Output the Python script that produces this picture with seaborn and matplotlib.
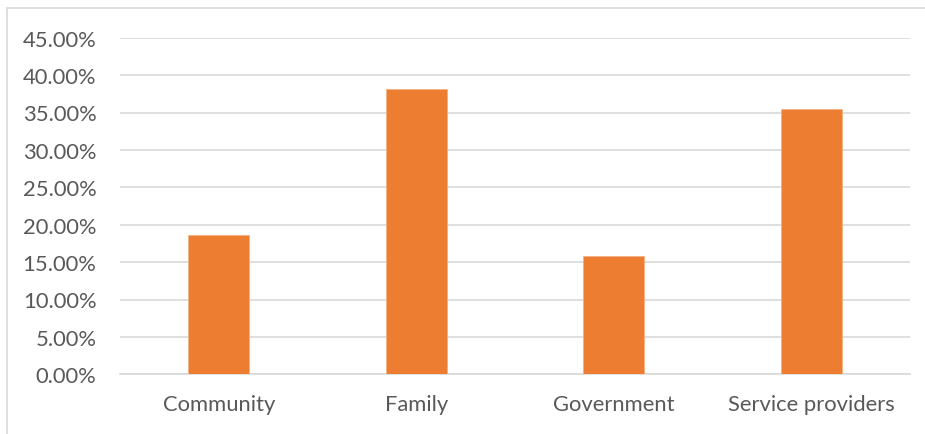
import matplotlib
matplotlib.use("Agg")
import matplotlib.pyplot as plt
import seaborn as sns
import pandas as pd
from matplotlib.lines import Line2D
from matplotlib.ticker import FuncFormatter, MultipleLocator

categories = ["Community", "Family", "Government", "Service providers"]
values = [18.6, 38.2, 15.8, 35.45]

df = pd.DataFrame({"category": categories, "value": values})

sns.set_theme(style="white")
plt.rcParams['font.family'] = ['Lato', 'DejaVu Sans']

fig = plt.figure(figsize=(9.25, 4.35), dpi=100)
ax = fig.add_axes([120/925, (435-375.3)/435, (910-120)/925, (375.3-38.7)/435])

sns.barplot(data=df, x="category", y="value", color="#ED7D31", saturation=1,
            width=0.31, ax=ax, edgecolor="#F4B183", linewidth=0.6, zorder=3)

ax.set_ylim(0, 45)
ax.set_xlim(-0.5, 3.5)
ax.yaxis.set_major_locator(MultipleLocator(5))
ax.yaxis.set_major_formatter(FuncFormatter(lambda v, p: f"{v:.2f}%"))
ax.grid(axis="y", color="#D9D9D9", linewidth=1.2, zorder=0)
ax.set_axisbelow(True)
for s in ["top", "right", "left"]:
    ax.spines[s].set_visible(False)
ax.spines["bottom"].set_color("#D9D9D9")
ax.spines["bottom"].set_linewidth(1.2)
ax.set_xlabel("")
ax.set_ylabel("")
ax.tick_params(axis="y", length=0, pad=17, labelsize=15.8, labelcolor="#595959")
ax.tick_params(axis="x", length=0, pad=14, labelsize=15.8, labelcolor="#595959")

# outer chart border (top and left visible)
fig.add_artist(Line2D([7/925, 1], [1-9/435, 1-9/435], color="#D9D9D9", linewidth=1.2, transform=fig.transFigure))
fig.add_artist(Line2D([7/925, 7/925], [0, 1-9/435], color="#D9D9D9", linewidth=1.2, transform=fig.transFigure))

fig.savefig("out.png", dpi=100)
